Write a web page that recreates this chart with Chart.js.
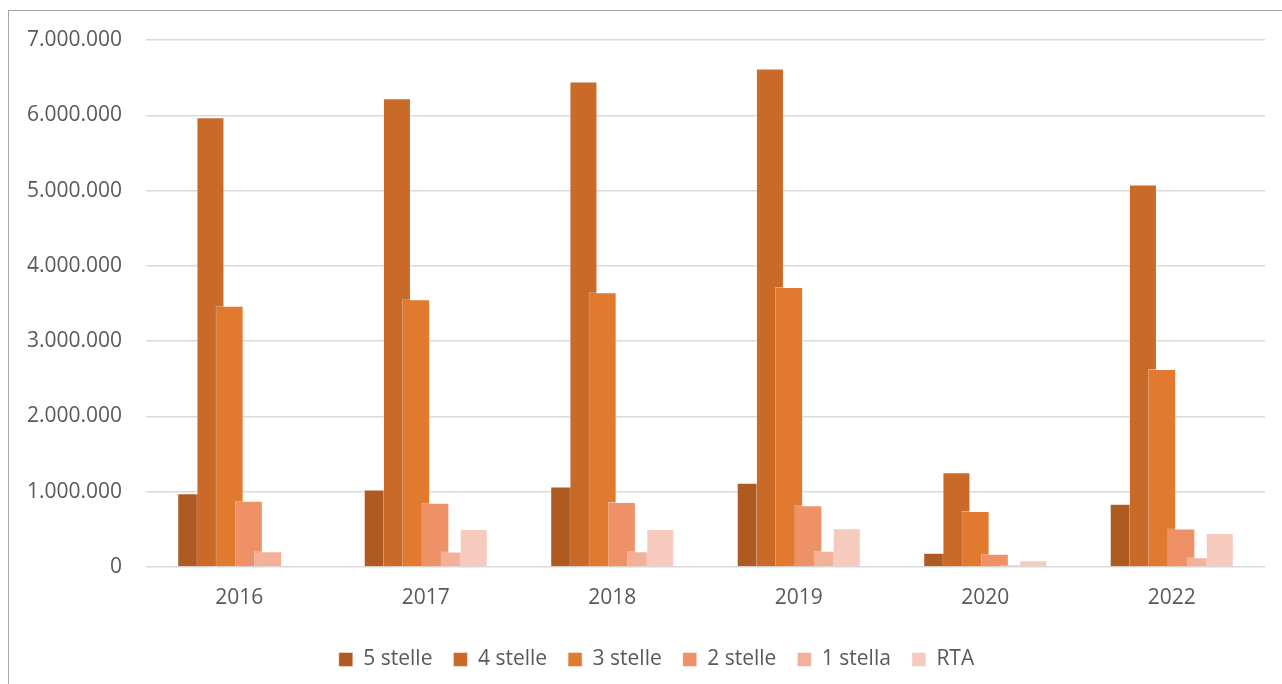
<!DOCTYPE html>
<html lang="it">
<head>
<meta charset="utf-8">
<title>Presenze per categoria</title>
<script src="https://cdn.jsdelivr.net/npm/chart.js@4/dist/chart.umd.min.js"></script>
<style>
    html, body { margin: 0; padding: 0; background: #fff; overflow: hidden; }
    .frame {
        position: absolute; left: 8px; top: 10px; width: 1300px; height: 700px;
        border-left: 1px solid #a6a6a6; border-top: 1px solid #a6a6a6;
    }
    .wrap { position: absolute; left: 0; top: 0; width: 1282px; height: 684px; }
</style>
</head>
<body>
<div class="frame"></div>
<div class="wrap"><canvas id="starsChart"></canvas></div>
<script>
// Anni (categorie asse x)
const years = ["2016", "2017", "2018", "2019", "2020", "2022"];

const stelle5 = [980000, 1030000, 1070000, 1120000, 190000, 840000];
const stelle4 = [5975000, 6225000, 6450000, 6620000, 1260000, 5080000];
const stelle3 = [3470000, 3555000, 3650000, 3720000, 745000, 2630000];
const stelle2 = [880000, 855000, 865000, 820000, 175000, 510000];
const stella1 = [210000, 205000, 210000, 215000, 30000, 130000];
const rta = [0, 505000, 505000, 515000, 90000, 450000];

const seriesLabels = ["5 stelle", "4 stelle", "3 stelle", "2 stelle", "1 stella", "RTA"];
const seriesColors = ["#ae5a21", "#c96a28", "#e1792f", "#ef9167", "#f4b19a", "#f6cbbe"];

// Tick labels asse y
const yMax = 7000000;
const yStep = 1000000;

function formatIt(v) {
    return String(v).replace(/\B(?=(\d{3})+(?!\d))/g, ".");
}

// Excel disegna la serie successiva sopra la precedente
const drawInOrder = {
    id: "drawInOrder",
    beforeDatasetsDraw(chart) {
        chart.getSortedVisibleDatasetMetas().forEach((meta) => chart._drawDataset(meta));
        return false;
    },
};

// Legenda centrata sul riquadro del grafico, non sul canvas
const legendShift = {
    id: "legendShift",
    afterLayout(chart) {
        if (!chart.legend) return;
        chart.legend.left += 21;
        chart.legend.right += 21;
    },
};

const values = [stelle5, stelle4, stelle3, stelle2, stella1, rta];
const datasets = values.map((data, i) => ({
    label: seriesLabels[i],
    data: data,
    backgroundColor: seriesColors[i],
    borderColor: "rgba(255, 255, 255, 0.45)",
    borderWidth: 1,
    categoryPercentage: 0.618,
    barPercentage: 1.458,
}));

Chart.defaults.font.family = "'Open Sans', sans-serif";
Chart.defaults.color = "#595959";

new Chart(document.getElementById("starsChart"), {
    type: "bar",
    data: { labels: years, datasets: datasets },
    plugins: [drawInOrder, legendShift],
    options: {
        responsive: true,
        maintainAspectRatio: false,
        animation: false,
        layout: { padding: { left: 6, right: 17, top: 40, bottom: 4 } },
        plugins: {
            title: { display: false },
            tooltip: { enabled: false },
            legend: {
                position: "bottom",
                labels: {
                    boxWidth: 14,
                    boxHeight: 14,
                    padding: 21,
                    font: { size: 21 },
                    color: "#595959",
                },
            },
        },
        scales: {
            x: {
                grid: { display: false, drawTicks: false },
                border: { display: false },
                ticks: { font: { size: 21 }, padding: 18 },
                afterFit: (scale) => { scale.height = 61; },
            },
            y: {
                min: 0,
                max: yMax,
                grid: { color: "#d9d9d9", lineWidth: 1.5, drawTicks: false },
                border: { display: false },
                ticks: {
                    stepSize: yStep,
                    padding: 24,
                    font: { size: 21 },
                    callback: (v) => formatIt(v),
                },
                afterFit: (scale) => { scale.width = 140; },
            },
        },
    },
});
</script>
</body>
</html>
